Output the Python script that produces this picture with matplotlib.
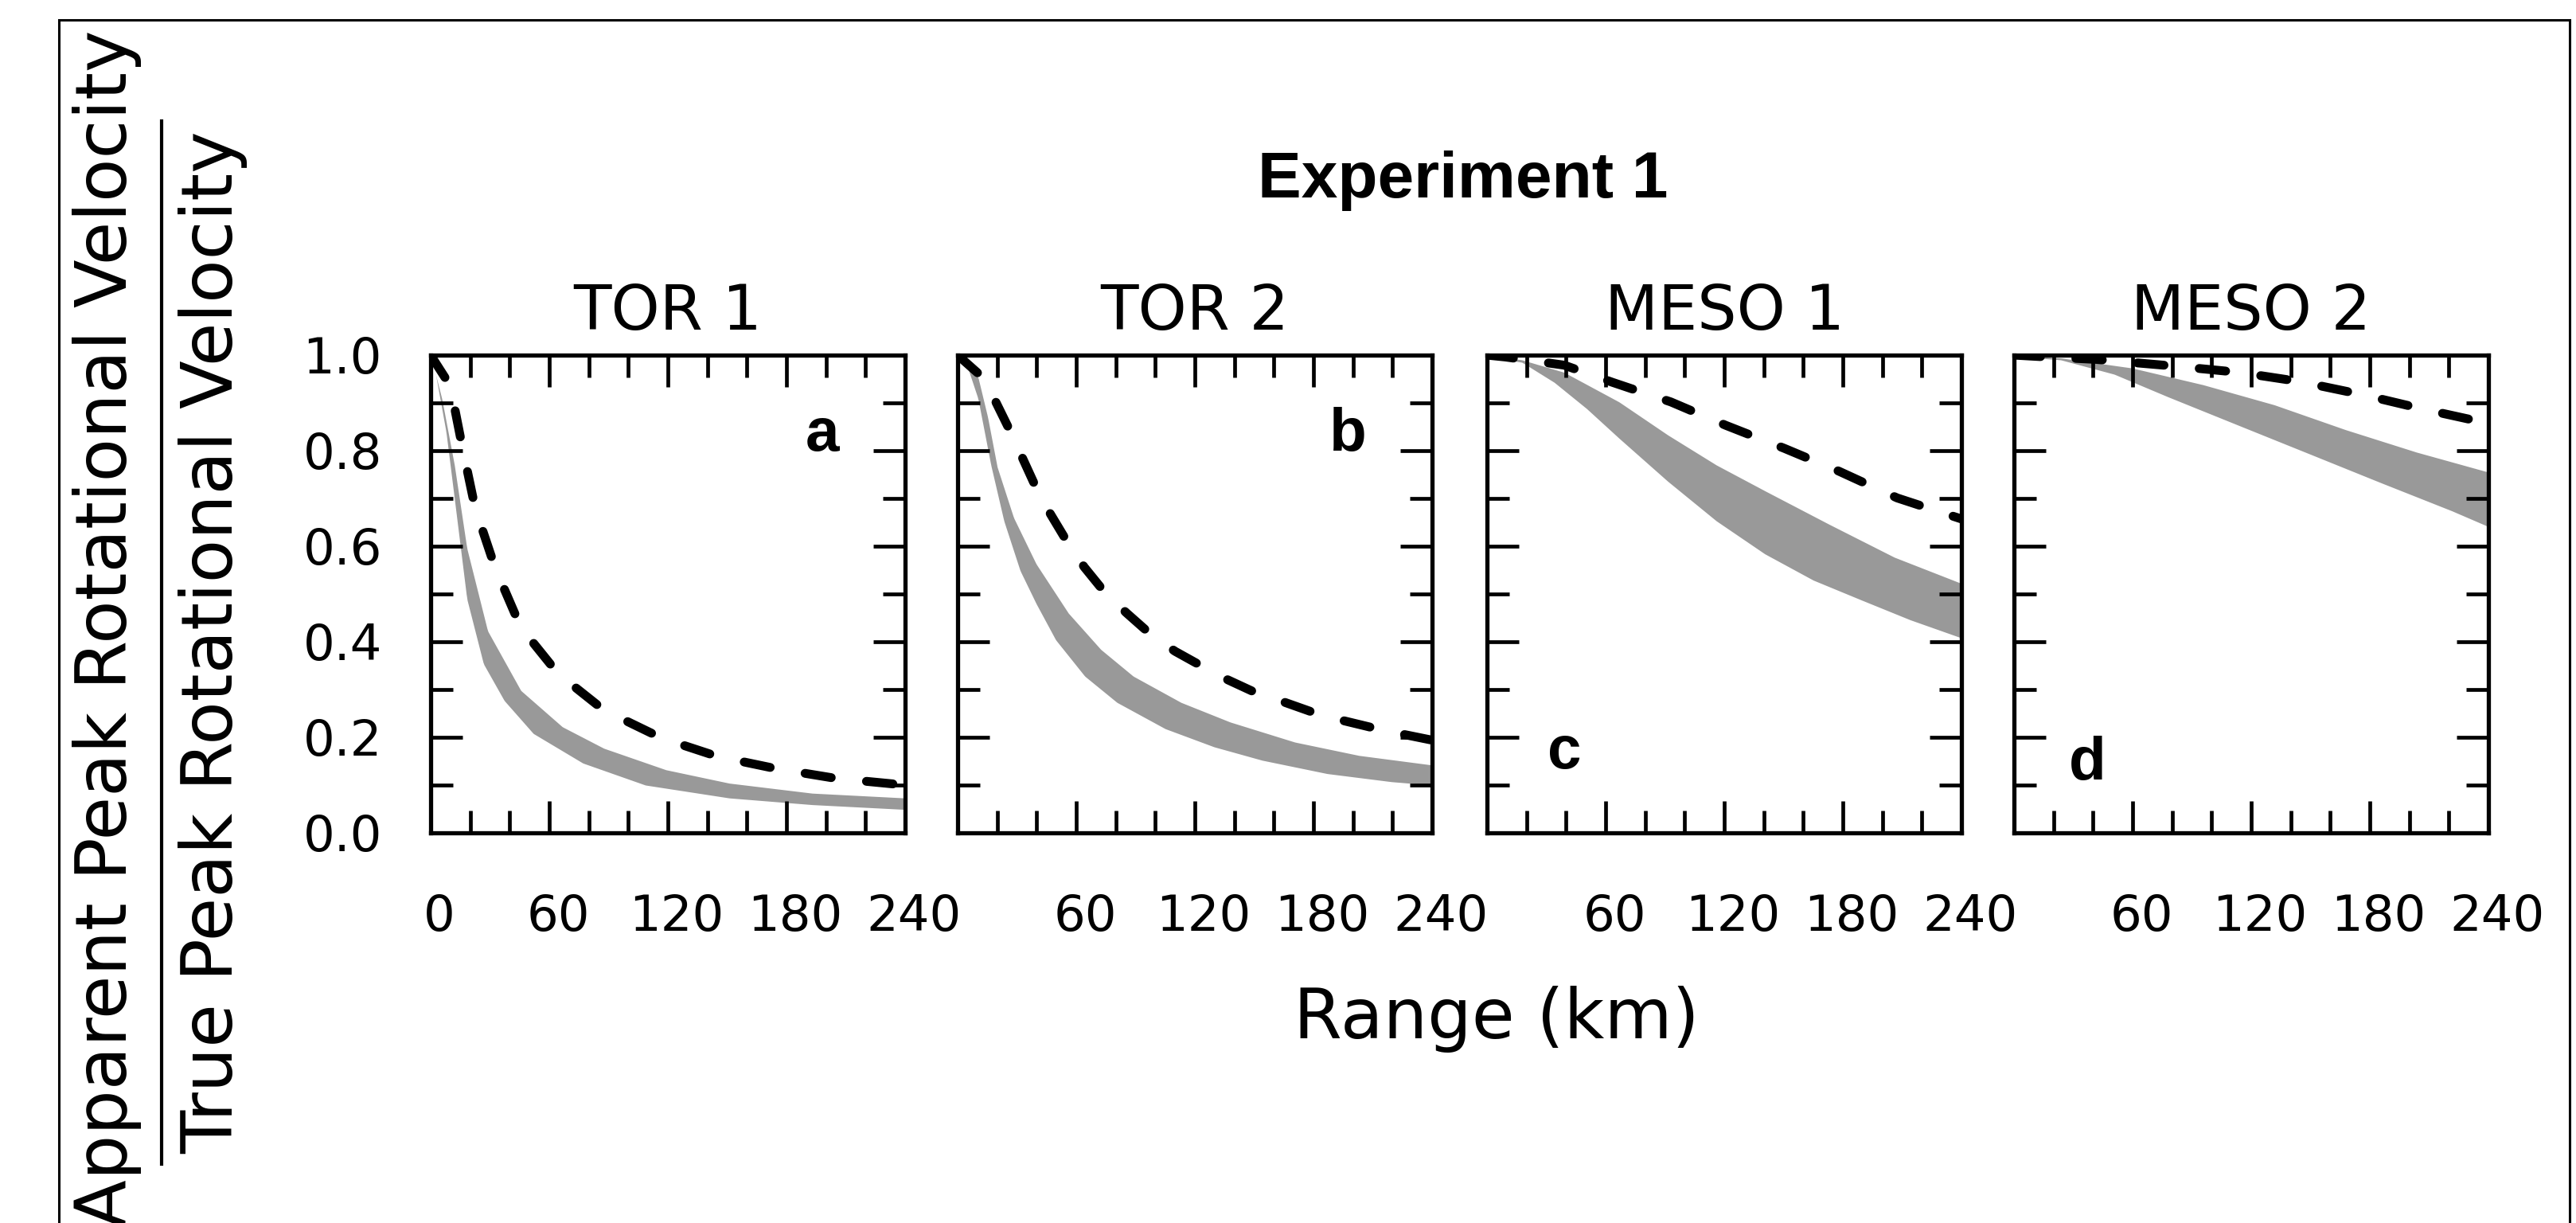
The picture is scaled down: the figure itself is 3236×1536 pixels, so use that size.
import numpy as np
import matplotlib
matplotlib.use("Agg")
import matplotlib.pyplot as plt
from matplotlib.patches import Rectangle
from matplotlib.lines import Line2D
import matplotlib.transforms as mtransforms

# ---------------- data ----------------
panel_titles = ["TOR 1", "TOR 2", "MESO 1", "MESO 2"]
panel_letters = ["a", "b", "c", "d"]

# TOR 1
a_dash_x = [0, 9.9, 16.2, 22.5, 32.6, 45.6, 64.5, 87.6, 117, 145, 174, 205, 240]
a_dash_y = [1.0, 0.936, 0.804, 0.68, 0.555, 0.43, 0.333, 0.257, 0.198, 0.16, 0.135, 0.114, 0.10]
a_up_x = [0, 5.7, 12, 18.3, 28.8, 45.6, 66.6, 87.6, 119, 151, 193, 240]
a_up_y = [1.0, 0.908, 0.77, 0.596, 0.423, 0.298, 0.222, 0.177, 0.132, 0.104, 0.083, 0.073]
a_lo_x = [0, 2.5, 7.8, 12, 18.3, 26.7, 37.2, 51.9, 77, 108.6, 151, 193, 240]
a_lo_y = [1.0, 0.96, 0.839, 0.70, 0.49, 0.354, 0.277, 0.208, 0.146, 0.10, 0.073, 0.059, 0.049]

# TOR 2
b_dash_x = [0, 13.6, 19.3, 27.5, 33.2, 40.5, 47, 56, 64.1, 74.9, 85.5, 97.8, 110, 124.8,
            136.3, 152.5, 165.6, 182, 195, 212, 224.5, 240]
b_dash_y = [1.0, 0.95, 0.902, 0.833, 0.781, 0.715, 0.667, 0.605, 0.556, 0.501, 0.46, 0.415,
            0.38, 0.346, 0.321, 0.29, 0.273, 0.249, 0.235, 0.218, 0.207, 0.194]
b_up_x = [0, 10.3, 15.2, 20, 28.3, 39.7, 56, 72.4, 88.8, 113, 137.8, 170.5, 203, 240]
b_up_y = [1.0, 0.954, 0.87, 0.766, 0.66, 0.563, 0.46, 0.384, 0.328, 0.273, 0.232, 0.19, 0.162, 0.142]
b_lo_x = [0, 3.8, 10.3, 16.8, 23.4, 31.6, 39.7, 49.6, 64.3, 80.6, 105, 129.7, 154, 186.9, 219.5, 240]
b_lo_y = [1.0, 0.99, 0.909, 0.77, 0.653, 0.549, 0.48, 0.404, 0.328, 0.273, 0.218, 0.18, 0.152,
          0.124, 0.107, 0.10]

# MESO 1
c_dash_x = [0, 9.5, 39, 63.5, 93, 120.8, 150.3, 178, 207.5, 240]
c_dash_y = [1.0, 0.996, 0.979, 0.943, 0.902, 0.853, 0.805, 0.757, 0.701, 0.657]
c_up_x = [0, 17.7, 39, 66.8, 91.4, 116, 141, 173, 206, 240]
c_up_y = [1.0, 0.99, 0.964, 0.902, 0.833, 0.77, 0.715, 0.646, 0.577, 0.522]
c_lo_x = [0, 17.7, 34, 50.4, 66.8, 91.4, 116, 140.5, 165, 189.6, 214, 240]
c_lo_y = [0.997, 0.985, 0.943, 0.888, 0.826, 0.736, 0.653, 0.584, 0.529, 0.487, 0.446, 0.408]

# MESO 2
d_dash_x = [0, 12.9, 41.7, 81.2, 113.6, 144, 176.5, 207, 240]
d_dash_y = [1.0, 0.997, 0.991, 0.977, 0.964, 0.945, 0.917, 0.887, 0.857]
d_up_x = [0, 23.7, 59.7, 95.6, 131.6, 167.6, 203.5, 240]
d_up_y = [1.0, 0.994, 0.973, 0.938, 0.896, 0.844, 0.797, 0.755]
d_lo_x = [0, 23.7, 50.7, 77.7, 113.6, 149.6, 185.5, 221.5, 240]
d_lo_y = [0.998, 0.99, 0.96, 0.913, 0.853, 0.793, 0.733, 0.674, 0.641]

x_ticks = [0, 60, 120, 180, 240]
y_ticks = [0.0, 0.2, 0.4, 0.6, 0.8, 1.0]
y_ticklabels = ["0.0", "0.2", "0.4", "0.6", "0.8", "1.0"]

panels = [
    (a_dash_x, a_dash_y, a_up_x, a_up_y, a_lo_x, a_lo_y),
    (b_dash_x, b_dash_y, b_up_x, b_up_y, b_lo_x, b_lo_y),
    (c_dash_x, c_dash_y, c_up_x, c_up_y, c_lo_x, c_lo_y),
    (d_dash_x, d_dash_y, d_up_x, d_up_y, d_lo_x, d_lo_y),
]

# ---------------- figure ----------------
W, H = 3236, 1536
fig = plt.figure(figsize=(W / 100, H / 100), dpi=100)
fig.patch.set_facecolor("white")

lefts = [541, 1203, 1868, 2530]
ax_w = 596
ax_top, ax_bot = 446, 1046

letter_pos = [(0.825, 0.80), (0.822, 0.80), (0.163, 0.135), (0.154, 0.111)]
FONT = "DejaVu Sans"

for i, (lx, data) in enumerate(zip(lefts, panels)):
    dx, dy, ux, uy, lox, loy = data
    ax = fig.add_axes([lx / W, 1 - ax_bot / H, ax_w / W, (ax_bot - ax_top) / H])
    grid = np.linspace(0, 240, 481)
    up = np.interp(grid, ux, uy)
    lo = np.interp(grid, lox, loy)
    ax.fill_between(grid, lo, up, color="#999999", lw=0, zorder=1)
    ax.plot(dx, dy, color="black", lw=8, linestyle=(0, (3.0, 4.0)),
            dash_capstyle="round", zorder=2)
    ax.set_xlim(0, 240)
    ax.set_ylim(0, 1.0)
    ax.set_xticks(x_ticks)
    ax.set_xticks(np.arange(0, 241, 20), minor=True)
    ax.set_yticks(y_ticks)
    ax.set_yticks(np.arange(0, 1.01, 0.1), minor=True)
    if i == 0:
        ax.set_xticklabels([str(v) for v in x_ticks])
        ax.set_yticklabels(y_ticklabels)
    else:
        ax.set_xticklabels([""] + [str(v) for v in x_ticks[1:]])
        ax.set_yticklabels([])
    for s in ax.spines.values():
        s.set_linewidth(3.8)
    ax.tick_params(which="both", direction="in", top=True, right=True, width=3.4)
    ax.tick_params(which="major", length=29)
    ax.tick_params(which="minor", length=20)
    ax.tick_params(axis="x", which="major", pad=55, labelsize=45)
    ax.tick_params(axis="y", which="major", pad=44, labelsize=45)
    off = mtransforms.ScaledTranslation(11 / 100, 0, fig.dpi_scale_trans)
    for lab in ax.get_xticklabels():
        lab.set_fontfamily(FONT)
        lab.set_transform(lab.get_transform() + off)
    for lab in ax.get_yticklabels():
        lab.set_fontfamily(FONT)
    ax.set_title(panel_titles[i], fontsize=56, family=FONT, pad=23)
    px, py = letter_pos[i]
    ax.text(px, py, panel_letters[i], transform=ax.transAxes, ha="center",
            va="baseline", fontsize=55, fontweight="bold", family="Liberation Sans")

# overall title and x label
fig.text(1838 / W, 1 - 248 / H, "Experiment 1", ha="center", va="baseline",
         fontsize=59, fontweight="bold", family="Liberation Sans")
fig.text(1880 / W, 1 - 1304 / H, "Range (km)", ha="center", va="baseline",
         fontsize=63, family=FONT)

# y label as fraction
fig.text(159 / W, 1 - 790 / H, "Apparent Peak Rotational Velocity", rotation=90,
         rotation_mode="anchor", ha="center", va="baseline", fontsize=64, family=FONT)
fig.text(292 / W, 1 - 807 / H, "True Peak Rotational Velocity", rotation=90,
         rotation_mode="anchor", ha="center", va="baseline", fontsize=64, family=FONT)
fig.add_artist(Line2D([203 / W, 203 / W], [1 - 152 / H, 1 - 1462 / H],
                      transform=fig.transFigure, color="black", lw=3))

# border frame
fig.add_artist(Rectangle((74 / W, -0.1), (3228 - 74) / W, 1 - 25 / H + 0.1,
                         transform=fig.transFigure, fill=False, edgecolor="black",
                         lw=2.2, clip_on=False))

fig.savefig("out.png", dpi=100)
